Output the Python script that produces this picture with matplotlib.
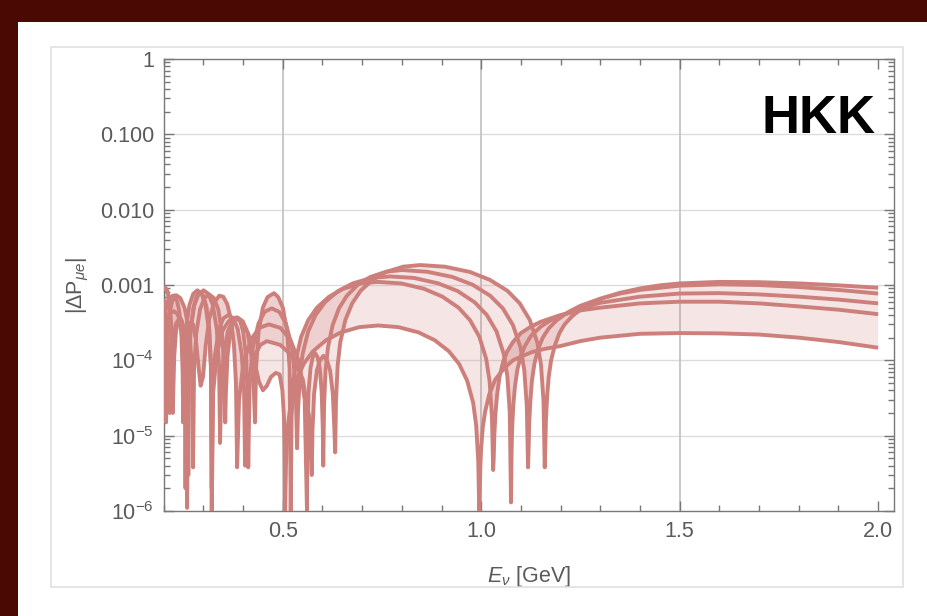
import matplotlib
matplotlib.use("Agg")
import matplotlib.pyplot as plt
from matplotlib.patches import Rectangle
import numpy as np

plt.rcParams['font.family'] = ['Liberation Sans', 'DejaVu Sans']
plt.rcParams['mathtext.fontset'] = 'custom'
plt.rcParams['mathtext.rm'] = 'Liberation Sans'
plt.rcParams['mathtext.it'] = 'Liberation Sans:italic'

# curves (E in GeV, |dP|)
e_a = [0.200, 0.203, 0.205, 0.206, 0.2073, 0.2103, 0.2155, 0.2211, 0.2275, 0.2339, 0.2395, 0.2447, 0.2477, 0.249,
       0.2512, 0.2562, 0.2648, 0.2742, 0.285, 0.2958, 0.3052, 0.3138, 0.3188, 0.321,
       0.3246, 0.333, 0.347, 0.363, 0.38, 0.398, 0.414, 0.43, 0.44, 0.45, 0.46, 0.47, 0.482, 0.492, 0.499, 0.503, 0.505, 0.506,
       0.5083, 0.513, 0.520, 0.5341, 0.5528, 0.5762, 0.609, 0.6464, 0.6932, 0.74,
       0.791, 0.842, 0.8828, 0.9185, 0.944, 0.9644, 0.9797, 0.9873, 0.9925, 0.995,
       0.9965, 0.998, 1.0, 1.004, 1.01, 1.02, 1.035, 1.05, 1.065, 1.08, 1.1, 1.13, 1.16, 1.2, 1.25, 1.3,
       1.4, 1.5, 1.6, 1.7, 1.8, 1.9, 2.0]
p_a = [4.0e-4, 1.5e-4, 5e-5, 1.5e-5, 6.9e-5, 2.1e-4, 4.4e-4, 6.1e-4, 6.9e-4, 6.1e-4, 4.4e-4, 2.1e-4, 6.9e-5, 1.5e-5,
       8.5e-5, 2.6e-4, 5.4e-4, 7.6e-4, 8.5e-4, 7.6e-4, 5.4e-4, 2.6e-4, 8.5e-5, 1e-6,
       3.7e-5, 1.15e-4, 2.4e-4, 3.3e-4, 3.7e-4, 3.2e-4, 2.2e-4, 9e-5, 5.2e-5, 4.0e-5, 4.6e-5, 6.0e-5, 6.8e-5, 6.5e-5, 4.0e-5, 1.8e-5, 6e-6, 1e-6,
       4.6e-6, 1.37e-5, 2.73e-5, 5.4e-5, 9.0e-5, 1.32e-4, 1.85e-4, 2.35e-4, 2.76e-4, 2.9e-4,
       2.76e-4, 2.35e-4, 1.85e-4, 1.32e-4, 9.0e-5, 5.4e-5, 2.73e-5, 1.37e-5, 4.6e-6, 1e-6,
       2e-6, 4.2e-6, 7e-6, 1.3e-5, 2.1e-5, 3.5e-5, 5.5e-5, 7e-5, 8.5e-5, 1e-4, 1.12e-4, 1.3e-4, 1.42e-4, 1.55e-4, 1.8e-4, 2.0e-4,
       2.25e-4, 2.3e-4, 2.28e-4, 2.2e-4, 2.0e-4, 1.75e-4, 1.47e-4]

e_b = [0.200, 0.204, 0.2096, 0.2146, 0.2192, 0.2219, 0.223,
       0.2241, 0.2266, 0.2309, 0.2356, 0.241, 0.2464, 0.2511, 0.2554, 0.2579, 0.259,
       0.2615, 0.2673, 0.2773, 0.288, 0.3005, 0.313, 0.3237, 0.3337, 0.3395, 0.342,
       0.3446, 0.3508, 0.3614, 0.3728, 0.386, 0.3992, 0.4106, 0.4212, 0.4274, 0.430,
       0.4327, 0.439, 0.4498, 0.4615, 0.478, 0.4885, 0.5002, 0.511, 0.5173, 0.520,
       0.5222, 0.5266, 0.5332, 0.5464, 0.564, 0.586, 0.6168, 0.652, 0.696, 0.74,
       0.798, 0.856, 0.9024, 0.943, 0.972, 0.9952, 1.0126, 1.0213, 1.0271, 1.03,
       1.0315, 1.033, 1.036, 1.04, 1.046, 1.055, 1.065, 1.08, 1.1, 1.125, 1.15, 1.2, 1.25, 1.3,
       1.4, 1.5, 1.6, 1.7, 1.8, 1.9, 2.0]
p_b = [8.6e-4, 9.3e-4, 8.3e-4, 6.0e-4, 2.9e-4, 9.3e-5, 2e-5,
       3.7e-5, 1.15e-4, 2.4e-4, 3.3e-4, 3.7e-4, 3.3e-4, 2.4e-4, 1.15e-4, 3.7e-5, 1.1e-6,
       8.5e-5, 2.6e-4, 5.4e-4, 7.6e-4, 8.5e-4, 7.6e-4, 5.4e-4, 2.6e-4, 8.5e-5, 8e-6,
       3.7e-5, 1.15e-4, 2.4e-4, 3.3e-4, 3.7e-4, 3.3e-4, 2.4e-4, 1.15e-4, 3.7e-5, 1.5e-5,
       7.8e-5, 2.4e-4, 5.0e-4, 6.9e-4, 7.8e-4, 6.9e-4, 5.0e-4, 2.4e-4, 7.8e-5, 1e-6,
       1.73e-5, 5.2e-5, 1.04e-4, 2.06e-4, 3.4e-4, 5.0e-4, 7.0e-4, 8.9e-4, 1.05e-3, 1.1e-3,
       1.05e-3, 8.9e-4, 7.0e-4, 5.0e-4, 3.4e-4, 2.06e-4, 1.04e-4, 5.2e-5, 1.73e-5, 3.5e-6,
       5e-6, 1e-5, 2e-5, 3.5e-5, 6e-5, 9.5e-5, 1.3e-4, 1.75e-4, 2.3e-4, 2.8e-4, 3.25e-4, 4.0e-4, 4.6e-4, 5.0e-4,
       5.7e-4, 6.0e-4, 6.0e-4, 5.7e-4, 5.2e-4, 4.7e-4, 4.1e-4]

e_c = [0.200, 0.205, 0.212, 0.222, 0.232, 0.242, 0.2525, 0.2655, 0.2715, 0.274,
       0.2764, 0.2821, 0.2918, 0.3024, 0.3145, 0.3267, 0.3372, 0.3469, 0.3526, 0.355,
       0.3567, 0.3608, 0.3678, 0.3753, 0.384, 0.3927, 0.4002, 0.4072, 0.4113, 0.413,
       0.4165, 0.4248, 0.439, 0.4543, 0.472, 0.4912, 0.5078, 0.5232, 0.5322, 0.536,
       0.5383, 0.543, 0.550, 0.5641, 0.5828, 0.6062, 0.639, 0.6764, 0.7232, 0.77,
       0.831, 0.892, 0.9408, 0.9835, 1.014, 1.0384, 1.0567, 1.0659, 1.0719, 1.075,
       1.0765, 1.078, 1.081, 1.085, 1.091, 1.1, 1.11, 1.125, 1.15, 1.175, 1.2, 1.25, 1.3,
       1.4, 1.5, 1.6, 1.7, 1.8, 1.9, 2.0]
p_c = [2.7e-4, 4.8e-4, 6.4e-4, 7.2e-4, 7.3e-4, 6.7e-4, 5.0e-4, 2.3e-4, 7.3e-5, 3.8e-6,
       7.5e-5, 2.3e-4, 4.8e-4, 6.7e-4, 7.5e-4, 6.7e-4, 4.8e-4, 2.3e-4, 7.5e-5, 1.5e-5,
       3.7e-5, 1.15e-4, 2.4e-4, 3.3e-4, 3.7e-4, 3.3e-4, 2.4e-4, 1.15e-4, 3.7e-5, 3.8e-6,
       4.9e-5, 1.5e-4, 3.1e-4, 4.4e-4, 4.9e-4, 4.4e-4, 3.1e-4, 1.5e-4, 4.9e-5, 6.8e-6,
       2.04e-5, 6.1e-5, 1.22e-4, 2.43e-4, 4.0e-4, 5.9e-4, 8.3e-4, 1.05e-3, 1.24e-3, 1.3e-3,
       1.24e-3, 1.05e-3, 8.3e-4, 5.9e-4, 4.0e-4, 2.43e-4, 1.22e-4, 6.1e-5, 2.04e-5, 1.3e-6,
       6e-6, 1.3e-5, 2.6e-5, 4.5e-5, 7.5e-5, 1.15e-4, 1.55e-4, 2.1e-4, 2.8e-4, 3.4e-4, 3.9e-4, 4.9e-4, 5.8e-4,
       7.0e-4, 7.7e-4, 7.8e-4, 7.5e-4, 7.0e-4, 6.4e-4, 5.7e-4]

e_d = [0.200, 0.2045, 0.2105, 0.2165, 0.225, 0.2335, 0.2395, 0.2468, 0.2532, 0.255,
       0.2565, 0.259, 0.263, 0.268, 0.274, 0.281, 0.288, 0.293, 0.299, 0.306, 0.315, 0.327, 0.34, 0.35, 0.36, 0.369, 0.377, 0.382, 0.385,
       0.3898, 0.401, 0.4202, 0.441, 0.465, 0.4938, 0.5188, 0.5418, 0.5552, 0.561,
       0.5622, 0.5651, 0.570, 0.5754, 0.5815, 0.5877, 0.593, 0.5979, 0.6008, 0.602,
       0.604, 0.6079, 0.6139, 0.6258, 0.6416, 0.6614, 0.6891, 0.7208, 0.7604, 0.80,
       0.8636, 0.9272, 0.978, 1.0226, 1.0544, 1.0798, 1.0989, 1.1085, 1.1148, 1.118,
       1.1195, 1.121, 1.124, 1.128, 1.134, 1.143, 1.155, 1.17, 1.19, 1.22, 1.25, 1.3, 1.35,
       1.4, 1.5, 1.6, 1.7, 1.8, 1.9, 2.0]
p_d = [1.2e-4, 2.5e-4, 3.6e-4, 4.2e-4, 4.5e-4, 4.2e-4, 3.6e-4, 2.2e-4, 6e-5, 2e-6,
       4e-5, 1.2e-4, 2.6e-4, 3.2e-4, 3.0e-4, 1.9e-4, 8e-5, 4.6e-5, 6e-5, 1.6e-4, 3.6e-4, 5.8e-4, 7.2e-4, 7.0e-4, 5.6e-4, 3.6e-4, 1.6e-4, 5e-5, 3.8e-6,
       3e-5, 9.3e-5, 1.9e-4, 2.7e-4, 3.0e-4, 2.7e-4, 1.9e-4, 9.3e-5, 3e-5, 1e-6,
       1.25e-5, 3.9e-5, 8e-5, 1.1e-4, 1.25e-4, 1.1e-4, 8e-5, 3.9e-5, 1.25e-5, 4e-6,
       2.5e-5, 7.4e-5, 1.49e-4, 2.95e-4, 4.9e-4, 7.2e-4, 1.01e-3, 1.28e-3, 1.5e-3, 1.58e-3,
       1.5e-3, 1.28e-3, 1.01e-3, 7.2e-4, 4.9e-4, 2.95e-4, 1.49e-4, 7.4e-5, 2.5e-5, 3.8e-6,
       7e-6, 1.5e-5, 3e-5, 5.5e-5, 9e-5, 1.4e-4, 2.0e-4, 2.65e-4, 3.4e-4, 4.4e-4, 5.3e-4, 6.6e-4, 7.7e-4,
       8.6e-4, 9.8e-4, 1.02e-3, 1.0e-3, 9.4e-4, 8.6e-4, 7.7e-4]

e_e = [0.200, 0.204, 0.208, 0.211, 0.2135, 0.215,
       0.2164, 0.2197, 0.2253, 0.2315, 0.2385, 0.2456, 0.2517, 0.2573, 0.2606, 0.262,
       0.2638, 0.2679, 0.275, 0.2827, 0.2915, 0.3004, 0.308, 0.3151, 0.3192, 0.321,
       0.3235, 0.3294, 0.3395, 0.3504, 0.363, 0.3756, 0.3865, 0.3966, 0.4025, 0.405,
       0.4083, 0.416, 0.4292, 0.4435, 0.46, 0.4939, 0.5233, 0.5504, 0.5662, 0.573,
       0.5748, 0.5789, 0.586, 0.5937, 0.6025, 0.6114, 0.619, 0.6261, 0.6302, 0.632,
       0.6341, 0.6384, 0.6448, 0.6577, 0.6748, 0.6962, 0.7262, 0.7604, 0.8032, 0.846,
       0.9088, 0.9716, 1.0218, 1.0658, 1.0972, 1.1223, 1.1412, 1.1506, 1.1569, 1.16,
       1.1615, 1.163, 1.166, 1.17, 1.176, 1.185, 1.197, 1.21, 1.23, 1.25, 1.28, 1.31, 1.35,
       1.4, 1.45, 1.5, 1.6, 1.7, 1.8, 1.9, 2.0]
p_e = [6.5e-4, 5.0e-4, 3.0e-4, 1.5e-4, 5e-5, 2e-5,
       3.5e-5, 1.1e-4, 2.2e-4, 3.1e-4, 3.5e-4, 3.1e-4, 2.2e-4, 1.1e-4, 3.5e-5, 3e-6,
       8e-5, 2.5e-4, 5.1e-4, 7.1e-4, 8.0e-4, 7.1e-4, 5.1e-4, 2.5e-4, 8e-5, 2e-6,
       4e-5, 1.2e-4, 2.6e-4, 3.6e-4, 4.0e-4, 3.6e-4, 2.6e-4, 1.2e-4, 4e-5, 4e-6,
       1.8e-5, 5.6e-5, 1.15e-4, 1.6e-4, 1.8e-4, 1.6e-4, 1.15e-4, 5.6e-5, 1.8e-5, 3e-6,
       1.15e-5, 3.6e-5, 7.4e-5, 1.0e-4, 1.15e-4, 1.0e-4, 7.4e-5, 3.6e-5, 1.15e-5, 6e-6,
       2.9e-5, 8.7e-5, 1.73e-4, 3.44e-4, 5.7e-4, 8.4e-4, 1.17e-3, 1.49e-3, 1.75e-3, 1.84e-3,
       1.75e-3, 1.49e-3, 1.17e-3, 8.4e-4, 5.7e-4, 3.44e-4, 1.73e-4, 8.7e-5, 2.9e-5, 3.8e-6,
       7e-6, 1.6e-5, 3.3e-5, 6e-5, 1.0e-4, 1.55e-4, 2.3e-4, 3.0e-4, 3.9e-4, 4.7e-4, 5.8e-4, 6.8e-4, 7.9e-4,
       9.0e-4, 9.9e-4, 1.05e-3, 1.1e-3, 1.09e-3, 1.05e-3, 9.9e-4, 9.2e-4]

curves = [(e_a, p_a), (e_b, p_b), (e_c, p_c), (e_d, p_d), (e_e, p_e)]

x_ticks = [0.5, 1.0, 1.5, 2.0]
x_labels = ['0.5', '1.0', '1.5', '2.0']
y_ticks = [1e-6, 1e-5, 1e-4, 1e-3, 1e-2, 1e-1, 1]
y_labels = ['$10^{-6}$', '$10^{-5}$', '$10^{-4}$', '0.001', '0.010', '0.100', '1']

line_col = '#cd807b'
grey = '#5a5a5a'

fig = plt.figure(figsize=(9.27, 6.16), dpi=100)
fig.patch.set_facecolor('#4b0904')
fig.add_artist(Rectangle((18 / 927, 0), 1, 1 - 22 / 616, transform=fig.transFigure,
                         facecolor='white', edgecolor='none', zorder=0))
fig.add_artist(Rectangle((51 / 927, 1 - 587 / 616), (903 - 51) / 927, (587 - 47) / 616,
                         transform=fig.transFigure, facecolor='none', edgecolor='#e0e0e0', lw=1.2, zorder=1))

ax = fig.add_axes([163.7 / 927, 1 - 511 / 616, 730.3 / 927, 452 / 616])
ax.set_facecolor('white')
ax.set_yscale('log')
ax.set_xlim(0.2, 2.04)
ax.set_ylim(1e-6, 1)

for yv in y_ticks[1:-1]:
    ax.axhline(yv, color='#dcdcdc', lw=1.0, zorder=1)
for xv in x_ticks[:-1]:
    ax.axvline(xv, color='#c4c4c4', lw=1.3, zorder=1)

for (x1, y1), (x2, y2) in zip(curves[:-1], curves[1:]):
    ax.fill(np.concatenate([x1, x2[::-1]]), np.concatenate([y1, y2[::-1]]),
            color=line_col, alpha=0.2, lw=0, zorder=2)

for x, y in curves:
    ax.plot(x, y, color=line_col, lw=2.8, solid_joinstyle='round', solid_capstyle='butt', zorder=3)

ax.set_xticks(x_ticks)
ax.set_xticklabels(x_labels)
ax.set_xticks(np.arange(0.2, 2.05, 0.1), minor=True)
ax.set_yticks(y_ticks)
ax.set_yticklabels(y_labels)
ax.yaxis.set_minor_locator(matplotlib.ticker.LogLocator(base=10, subs=np.arange(2, 10), numticks=20))
ax.yaxis.set_minor_formatter(matplotlib.ticker.NullFormatter())
ax.tick_params(which='both', direction='in', top=True, right=True, color='#777777', width=1,
               labelsize=15.5, labelcolor=grey)
ax.tick_params(which='major', length=7, pad=7)
ax.tick_params(which='minor', length=4)
for s in ax.spines.values():
    s.set_color('#777777')
    s.set_linewidth(1.0)

ax.set_xlabel(r'$E_{\nu}$ [GeV]', fontsize=15.5, color=grey, labelpad=16)
ax.set_ylabel(r'|$\Delta$P$_{\mu e}$|', fontsize=15.5, color=grey, labelpad=6)
ax.text(0.974, 0.836, 'HKK', transform=ax.transAxes, ha='right', va='baseline',
        fontsize=38, fontweight='bold', color='black')

fig.savefig('out.png', dpi=100, facecolor=fig.get_facecolor())
